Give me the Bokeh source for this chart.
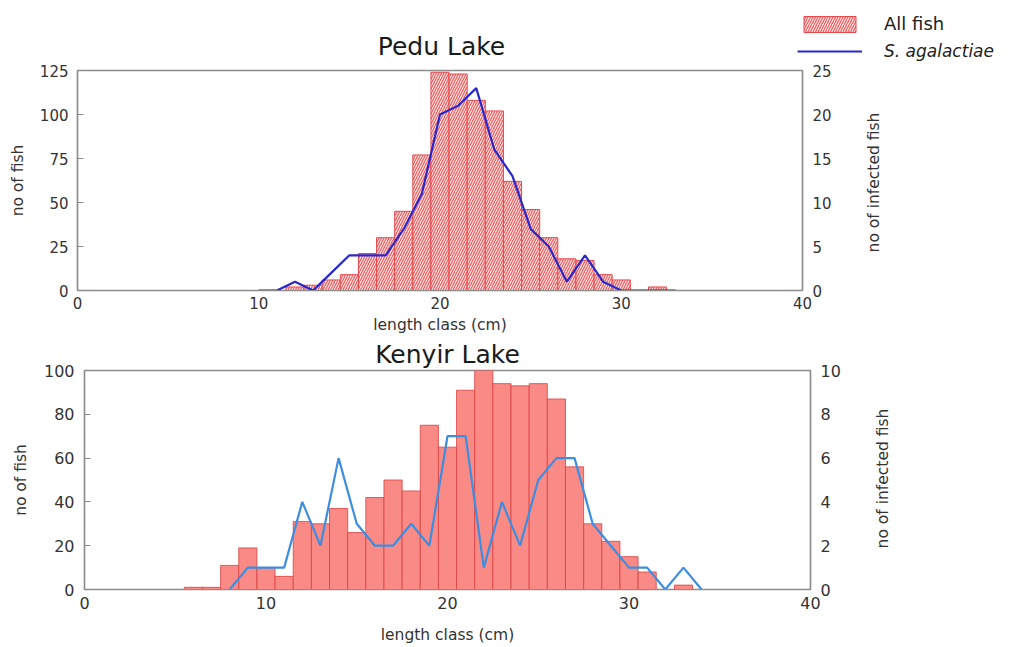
import math

import numpy as np
from bokeh.plotting import figure
from bokeh.models import Range1d, LinearAxis, Legend, LegendItem, FixedTicker, Label
from bokeh.layouts import column, row
from bokeh.embed import file_html
from bokeh.resources import INLINE

# ---- Pedu Lake: length-class counts (cm) ----
pedu_len = list(range(12, 33))
pedu_all = [2, 3, 6, 9, 21, 30, 45, 77, 124, 123, 108, 102, 62, 46, 30, 18, 17, 9, 6, 0, 2]
pedu_inf_len = list(range(10, 34))
pedu_inf = [0, 0, 1, 0, 2, 4, 4, 4, 7, 11, 20, 21, 23, 16, 13, 7, 5, 1, 4, 1, 0, 0, 0, 0]

# ---- Kenyir Lake ----
kenyir_len = list(range(6, 34))
kenyir_all = [1, 1, 11, 19, 10, 6, 31, 30, 37, 26, 42, 50, 45, 75, 65, 91, 100, 94, 93, 94,
              87, 56, 30, 22, 15, 8, 0, 2]
kenyir_inf_len = list(range(8, 35))
kenyir_inf = [0, 1, 1, 1, 4, 2, 6, 3, 2, 2, 3, 2, 7, 7, 1, 4, 2, 5, 6, 6, 3, 2, 1, 1, 0, 1, 0]

x_ticks = [0, 10, 20, 30, 40]
pedu_ticks = [0, 25, 50, 75, 100, 125]
pedu_inf_ticks = [0, 5, 10, 15, 20, 25]
kenyir_ticks = [0, 20, 40, 60, 80, 100]
kenyir_inf_ticks = [0, 2, 4, 6, 8, 10]

FONT = "DejaVu Sans"
AXIS_GREY = "#8c8c8c"
TEXT = "#333333"

ALL_STYLE = dict(fill_color="#FFE6E6", line_color="#E8474B", line_width=1,
                 hatch_pattern="/", hatch_color="#EE5252", hatch_scale=5, hatch_weight=1.1)
PEDU_LINE = dict(line_color="#2828CC", line_width=2.2)


def style_axis(ax, label=None, tick_in=0, standoff=10, label_standoff=10, size="16px"):
    ax.axis_label = label
    ax.axis_line_color = AXIS_GREY
    ax.axis_line_width = 1.2
    ax.major_tick_in = tick_in
    ax.major_tick_out = 0
    ax.major_tick_line_color = AXIS_GREY if tick_in else None
    ax.minor_tick_line_color = None
    ax.major_label_text_font = FONT
    ax.major_label_text_font_size = size
    ax.major_label_text_color = TEXT
    ax.major_label_standoff = standoff
    ax.axis_label_text_font = FONT
    ax.axis_label_text_font_size = "15.5px"
    ax.axis_label_text_font_style = "normal"
    ax.axis_label_text_color = TEXT
    ax.axis_label_standoff = label_standoff


def blank_strip(width, height):
    """A borderless canvas whose data units are pixels, for free-standing text."""
    s = figure(width=width, height=height, x_range=Range1d(0, width), y_range=Range1d(0, height),
               x_axis_type=None, y_axis_type=None, output_backend="svg",
               toolbar_location=None, min_border=0)
    s.frame_align = False
    s.outline_line_color = None
    s.xgrid.visible = False
    s.ygrid.visible = False
    return s


def base_figure(width, height, ymax, y2max, borders, title=None):
    left, right, top, bottom = borders
    p = figure(width=width, height=height, x_range=Range1d(0, 40), y_range=Range1d(0, ymax),
               output_backend="svg", toolbar_location=None, title=title,
               min_border_left=left, min_border_right=right,
               min_border_top=top, min_border_bottom=bottom)
    p.frame_align = False
    p.extra_y_ranges = {"infected": Range1d(0, y2max)}
    p.xgrid.visible = False
    p.ygrid.visible = False
    p.outline_line_color = AXIS_GREY
    p.outline_line_width = 1.5
    return p


# ---------------- heading: first panel title + legend ----------------
head = blank_strip(1016, 61)
head.add_layout(Label(x=441, y=15, text="Pedu Lake", text_align="center",
                      text_baseline="middle", text_font=FONT, text_font_size="25px",
                      text_color="#1a1a1a"))
# placeholder renderers (no visible data) that carry the legend swatches
key_bar = head.vbar(x=np.array([np.nan]), top=np.array([np.nan]), width=1, **ALL_STYLE)
key_line = head.line(x=np.array([np.nan]), y=np.array([np.nan]), **PEDU_LINE)

legend_opts = dict(glyph_width=65, glyph_height=20, label_standoff=22, padding=0, margin=0,
                   spacing=0, border_line_color=None, background_fill_alpha=0,
                   label_text_font=FONT, label_text_color="#222222", label_height=20)
head.add_layout(Legend(items=[LegendItem(label="All fish", renderers=[key_bar])],
                       location=(797, 27), label_text_font_size="18px", **legend_opts))
head.add_layout(Legend(items=[LegendItem(label="S. agalactiae", renderers=[key_line])],
                       location=(797, 0), label_text_font_size="17px",
                       label_text_font_style="italic", **legend_opts))

# ---------------- Pedu Lake ----------------
p1 = base_figure(860, 275, 125, 25, (77, 58, 9, 46))
p1.vbar(x=pedu_len, top=pedu_all, width=1, bottom=0, **ALL_STYLE)
p1.line(pedu_inf_len, pedu_inf, y_range_name="infected", **PEDU_LINE)

p1.xaxis.ticker = FixedTicker(ticks=x_ticks)
p1.yaxis.ticker = FixedTicker(ticks=pedu_ticks)
style_axis(p1.xaxis[0], "length class (cm)", standoff=6, label_standoff=4, size="15px")
style_axis(p1.yaxis[0], "no of fish", tick_in=6, standoff=9, label_standoff=10, size="15px")
r1 = LinearAxis(y_range_name="infected", ticker=FixedTicker(ticks=pedu_inf_ticks))
style_axis(r1, standoff=10, size="15px")
p1.add_layout(r1, "right")

side1 = blank_strip(156, 275)
side1.add_layout(Label(x=13, y=154, text="no of infected fish", angle=math.pi / 2,
                       text_align="center", text_baseline="middle", text_font=FONT,
                       text_font_size="15.5px", text_color=TEXT))

# ---------------- Kenyir Lake ----------------
p2 = base_figure(860, 311, 100, 10, (84, 50, 33, 58), title="Kenyir Lake")
p2.title.align = "center"
p2.title.text_font = FONT
p2.title.text_font_size = "25px"
p2.title.text_font_style = "normal"
p2.title.text_color = "#1a1a1a"
p2.title.standoff = 3
p2.vbar(x=kenyir_len, top=kenyir_all, width=1, bottom=0,
        fill_color="#F98A86", line_color="#D8403F", line_width=0.8)
p2.line(kenyir_inf_len, kenyir_inf, y_range_name="infected",
        line_color="#3D8DE0", line_width=2.2)

p2.xaxis.ticker = FixedTicker(ticks=x_ticks)
p2.yaxis.ticker = FixedTicker(ticks=kenyir_ticks)
style_axis(p2.xaxis[0], "length class (cm)", standoff=7, label_standoff=14)
style_axis(p2.yaxis[0], "no of fish", tick_in=6, standoff=10, label_standoff=11)
r2 = LinearAxis(y_range_name="infected", ticker=FixedTicker(ticks=kenyir_inf_ticks))
style_axis(r2, standoff=10)
p2.add_layout(r2, "right")

side2 = blank_strip(156, 311)
side2.add_layout(Label(x=22, y=169, text="no of infected fish", angle=math.pi / 2,
                       text_align="center", text_baseline="middle", text_font=FONT,
                       text_font_size="15.5px", text_color=TEXT))

layout = column(head, row(p1, side1, spacing=0), row(p2, side2, spacing=0), spacing=0)
open("out.html", "w").write(file_html(layout, INLINE))
